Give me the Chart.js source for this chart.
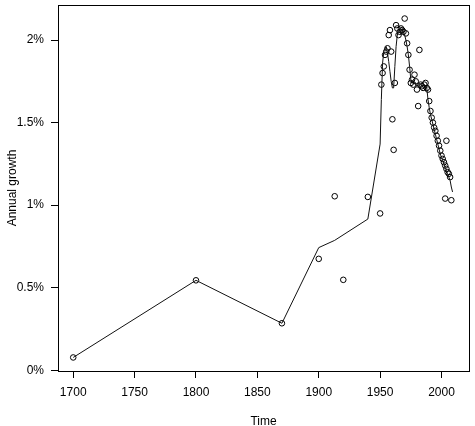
<!DOCTYPE html>
<html>
<head>
<meta charset="utf-8">
<script src="https://cdn.jsdelivr.net/npm/chart.js@4"></script>
<style>
    html, body { margin: 0; padding: 0; background: #fff; }
    #wrap { width: 475px; height: 426px; }
</style>
</head>
<body>
<div id="wrap"><canvas id="chart" width="475" height="426"></canvas></div>
<script>
// observed annual growth (circles)
const pointYears = [1700, 1800, 1870, 1900, 1913, 1920, 1940,
    1950, 1951, 1952, 1953, 1954, 1955, 1956, 1957, 1958, 1959, 1960, 1961, 1962, 1963, 1964, 1965,
    1966, 1967, 1968, 1969, 1970, 1971, 1972, 1973, 1974, 1975, 1976, 1977, 1978, 1979, 1980,
    1981, 1982, 1983, 1984, 1985, 1986, 1987, 1988, 1989, 1990, 1991, 1992, 1993, 1994, 1995,
    1996, 1997, 1998, 1999, 2000, 2001, 2002, 2003, 2004, 2005, 2006, 2007, 2003, 2004, 2008];
const pointGrowth = [0.078, 0.545, 0.285, 0.675, 1.054, 0.548, 1.05,
    0.95, 1.73, 1.80, 1.84, 1.91, 1.93, 1.95, 2.03, 2.06, 1.93, 1.52, 1.335, 1.74, 2.09, 2.07, 2.03,
    2.05, 2.07, 2.06, 2.05, 2.13, 2.04, 1.98, 1.91, 1.82, 1.74, 1.76, 1.73, 1.79, 1.75, 1.70,
    1.60, 1.94, 1.73, 1.72, 1.71, 1.73, 1.74, 1.71, 1.70, 1.63, 1.57, 1.53, 1.50, 1.47, 1.45,
    1.42, 1.39, 1.36, 1.33, 1.30, 1.28, 1.26, 1.24, 1.22, 1.20, 1.19, 1.17, 1.04, 1.39, 1.03];

// smoothed growth (line)
const lineYears = [1700, 1800, 1870, 1900, 1913, 1940, 1950, 1951, 1952, 1953, 1954, 1955,
    1956, 1957, 1958, 1959, 1960, 1961, 1962, 1963, 1964, 1965, 1966, 1967, 1968, 1969, 1970,
    1971, 1972, 1973, 1974, 1975, 1976, 1977, 1978, 1979, 1980, 1981, 1982, 1983, 1984, 1985,
    1986, 1987, 1988, 1989, 1990, 1991, 1992, 1993, 1994, 1995, 1996, 1997, 1998, 1999, 2000,
    2001, 2002, 2003, 2004, 2005, 2006, 2007, 2008, 2009];
const lineGrowth = [0.078, 0.545, 0.285, 0.743, 0.787, 0.916, 1.37, 1.64, 1.86, 1.93, 1.95, 1.96,
    1.92, 1.87, 1.81, 1.75, 1.71, 1.71, 1.84, 1.96, 2.03, 2.05, 2.06, 2.06, 2.07, 2.05, 2.03,
    2.00, 1.96, 1.91, 1.84, 1.76, 1.74, 1.74, 1.74, 1.73, 1.72, 1.73, 1.74, 1.73, 1.72, 1.73,
    1.73, 1.72, 1.71, 1.64, 1.59, 1.55, 1.52, 1.49, 1.46, 1.43, 1.40, 1.37, 1.34, 1.31, 1.29,
    1.27, 1.25, 1.23, 1.21, 1.19, 1.17, 1.15, 1.11, 1.08];

const xTicks = [1700, 1750, 1800, 1850, 1900, 1950, 2000];
const yTicks = [0, 0.5, 1, 1.5, 2];

const FONT = 'Liberation Sans, Arial, Helvetica, sans-serif';
const INK = '#000';

// R-style box around the plotting region
const boxPlugin = {
    id: 'box',
    afterDraw(chart) {
        const a = chart.chartArea;
        const ctx = chart.ctx;
        ctx.save();
        ctx.strokeStyle = INK;
        ctx.lineWidth = 1;
        ctx.strokeRect(Math.round(a.left) + 0.5, Math.round(a.top) + 0.5,
            Math.round(a.right - a.left), Math.round(a.bottom - a.top));
        ctx.restore();
    }
};

new Chart(document.getElementById('chart'), {
    type: 'scatter',
    data: {
        datasets: [{
            type: 'line',
            data: lineYears.map((y, i) => ({ x: y, y: lineGrowth[i] })),
            borderColor: '#111',
            borderWidth: 1,
            pointRadius: 0,
            tension: 0,
            fill: false
        }, {
            data: pointYears.map((y, i) => ({ x: y, y: pointGrowth[i] })),
            borderColor: INK,
            backgroundColor: 'rgba(0,0,0,0)',
            borderWidth: 1,
            pointRadius: 2.8,
            pointStyle: 'circle'
        }]
    },
    options: {
        responsive: false,
        animation: false,
        layout: { padding: { top: 3, right: 6, left: 0, bottom: 0 } },
        plugins: {
            legend: { display: false },
            tooltip: { enabled: false }
        },
        scales: {
            x: {
                type: 'linear',
                min: 1687.6,
                max: 2022.4,
                afterBuildTicks: s => { s.ticks = xTicks.map(v => ({ value: v })); },
                afterFit: s => { s.height = 55; s.paddingLeft = 0; s.paddingRight = 0; },
                grid: { drawOnChartArea: false, drawTicks: true, tickLength: 7, color: INK },
                border: { display: true, color: INK },
                ticks: {
                    color: INK, padding: 7, maxRotation: 0, autoSkip: false,
                    font: { family: FONT, size: 12 },
                    callback: v => String(v)
                },
                title: {
                    display: true, text: 'Time', color: INK,
                    font: { family: FONT, size: 12 },
                    padding: { top: 0, bottom: -2.7 }
                }
            },
            y: {
                min: -0.004,
                max: 2.212,
                afterBuildTicks: s => { s.ticks = yTicks.map(v => ({ value: v })); },
                afterFit: s => { s.width = 58; s.paddingTop = 0; s.paddingBottom = 0; },
                grid: { drawOnChartArea: false, drawTicks: true, tickLength: 7, color: INK },
                border: { display: true, color: INK },
                ticks: {
                    color: INK, padding: 7, autoSkip: false,
                    font: { family: FONT, size: 12 },
                    callback: v => v + '%'
                },
                title: {
                    display: true, text: 'Annual growth', color: INK,
                    font: { family: FONT, size: 12 },
                    padding: { top: 5, bottom: 0 }
                }
            }
        }
    },
    plugins: [boxPlugin]
});
</script>
</body>
</html>
